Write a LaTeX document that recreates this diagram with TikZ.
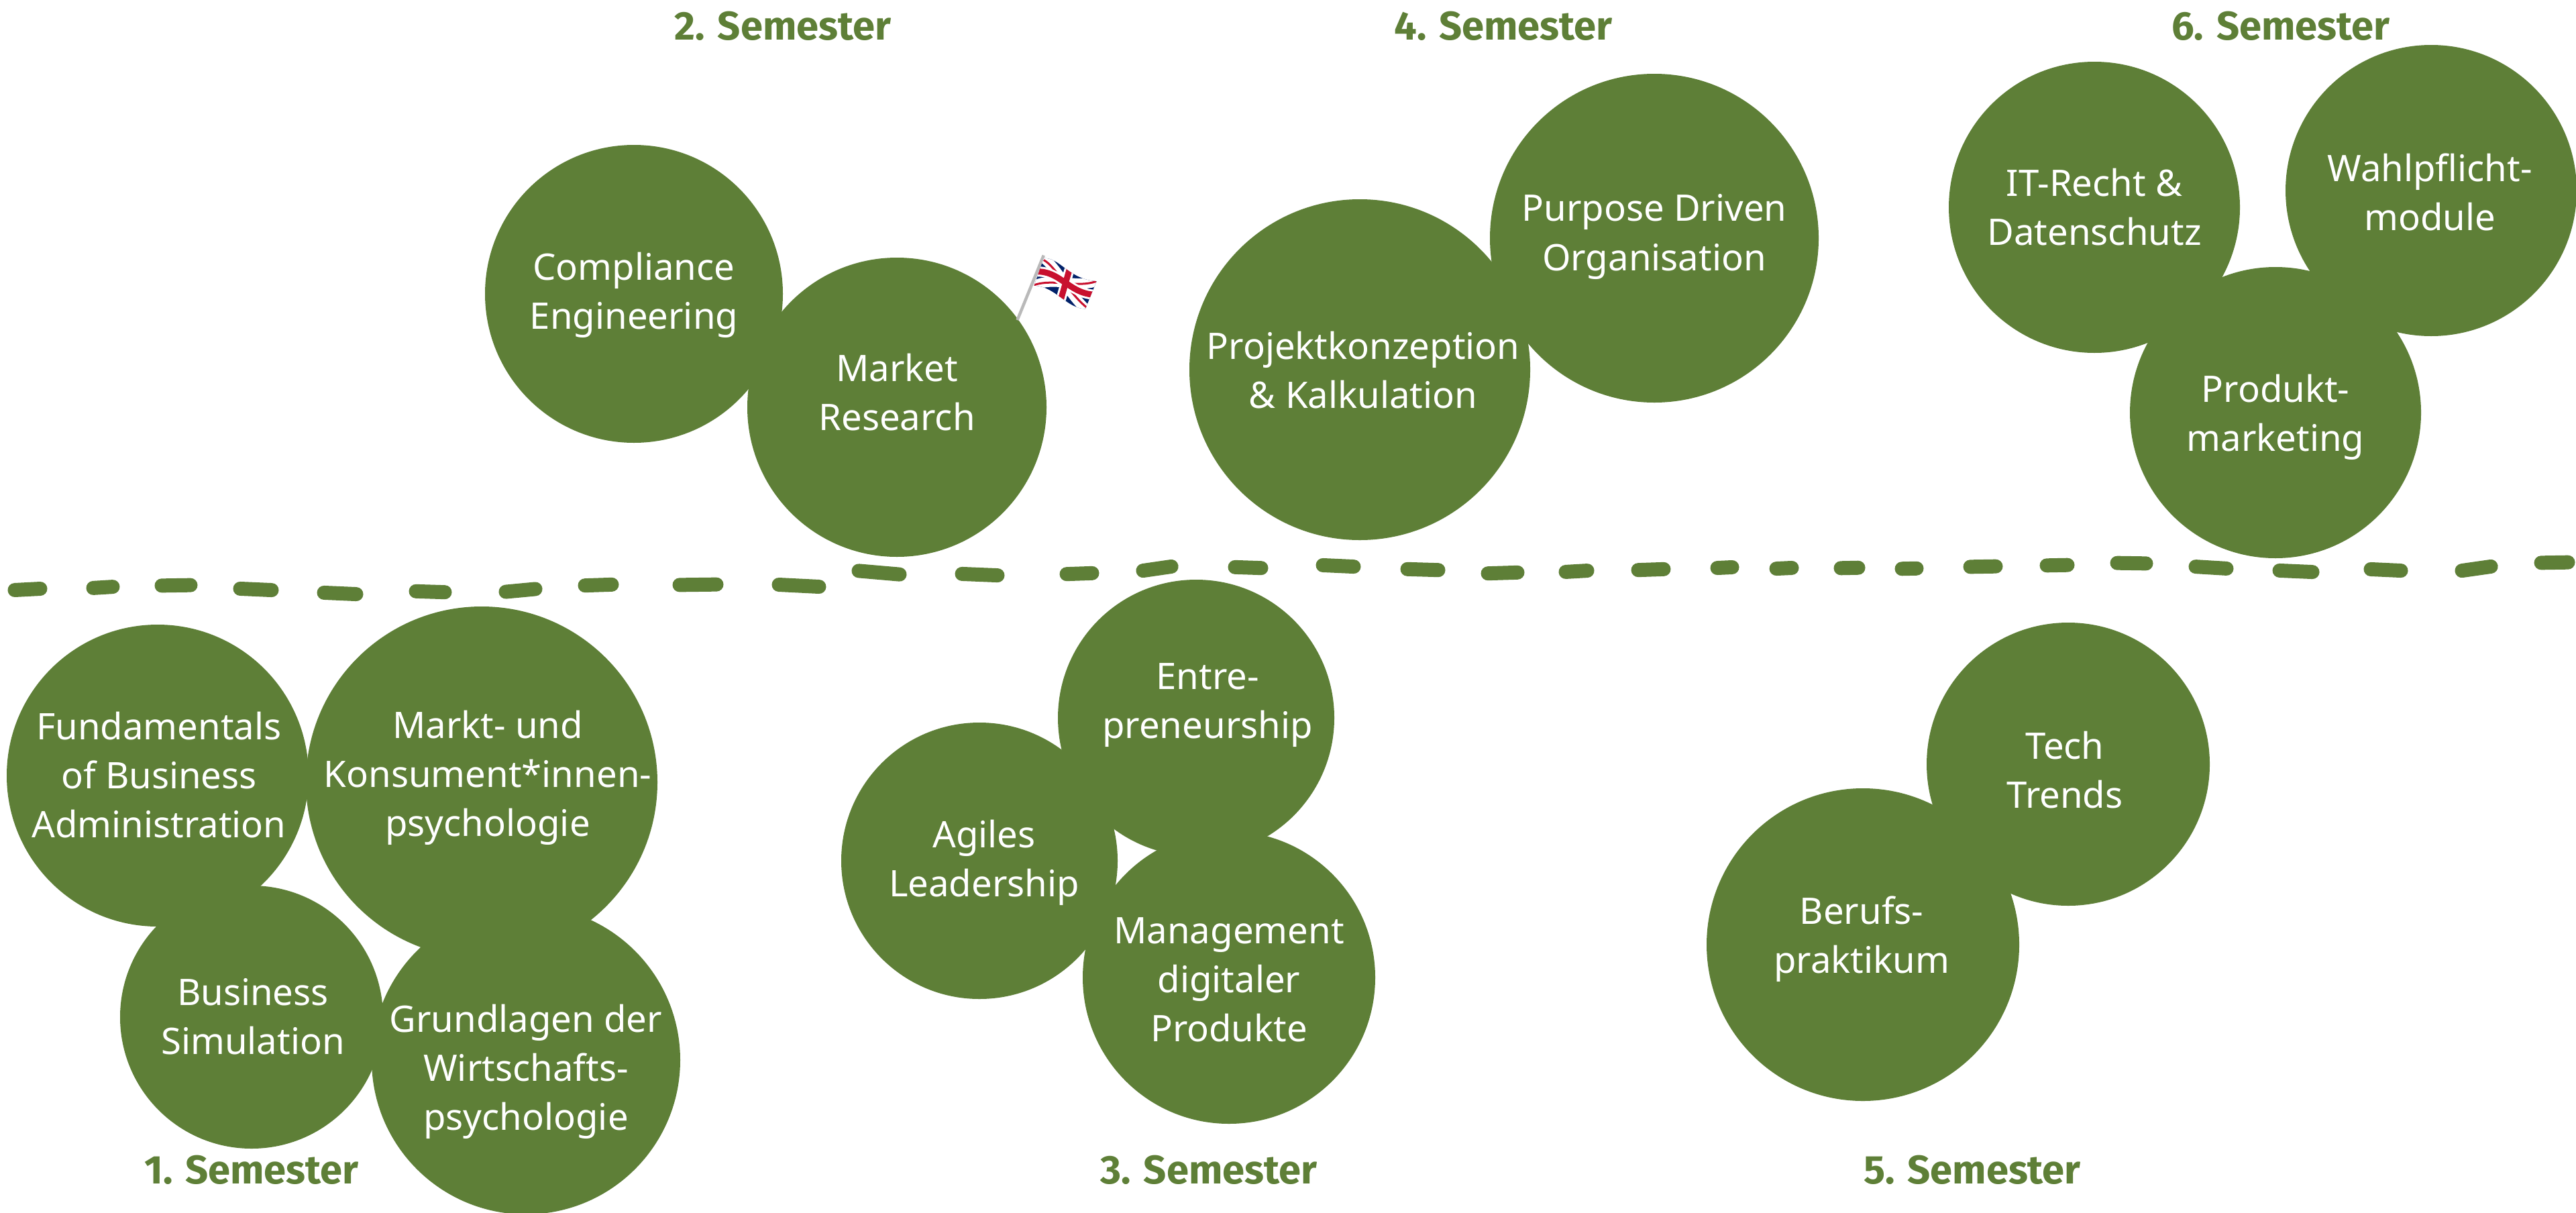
\documentclass[tikz,border=0pt]{standalone}
\usepackage{fontspec}
\setmainfont{Noto Sans}
\newfontfamily\semesterfont{Fira Sans}
\definecolor{modulgreen}{HTML}{5E7F37}
\definecolor{flagblue}{HTML}{012169}
\definecolor{flagred}{HTML}{C8102E}
\tikzset{
    modul/.style={circle, fill=modulgreen, inner sep=0pt},
    modultext/.style={align=center, text=white, font=\fontsize{15.5}{20.8}\selectfont},
    semester/.style={text=modulgreen, font=\semesterfont\fontsize{17}{20}\selectfont\bfseries},
    teiler/.style={modulgreen, line width=0.21cm, line cap=round, shorten <=0.1cm, shorten >=0.1cm},
}

\begin{document}
\begin{tikzpicture}
        \useasboundingbox (0.0, 0.0) rectangle (38.4,-18.07);

        \foreach \xa/\ya/\xb/\yb in {0.12/8.80/0.70/8.77, 1.29/8.77/1.78/8.74, 2.31/8.73/2.94/8.72,
            3.48/8.77/4.15/8.80, 4.73/8.83/5.41/8.86, 6.10/8.81/6.73/8.83, 7.44/8.83/8.08/8.77,
            8.62/8.73/9.22/8.71, 10.03/8.72/10.78/8.71, 11.51/8.71/12.31/8.75, 12.70/8.50/13.51/8.57,
            14.24/8.55/14.97/8.58, 15.80/8.56/16.38/8.54, 16.94/8.52/17.56/8.43, 18.31/8.45/18.90/8.47,
            19.62/8.42/20.28/8.45, 20.88/8.48/21.54/8.50, 22.08/8.55/22.72/8.53, 23.24/8.53/23.76/8.50,
            24.32/8.50/24.90/8.48, 25.50/8.47/25.92/8.45, 26.38/8.48/26.81/8.46, 27.34/8.47/27.80/8.46,
            28.25/8.48/28.67/8.47, 29.27/8.45/29.85/8.44, 30.41/8.43/30.92/8.42, 31.46/8.39/32.09/8.40,
            32.63/8.44/33.29/8.48, 33.88/8.50/34.57/8.53, 35.24/8.48/35.89/8.51, 36.60/8.52/37.23/8.43,
            37.78/8.39/38.38/8.38}
            \draw[teiler] (\xa,-\ya) -- (\xb,-\yb);

        \node[modul, minimum size=4.44cm] (compliance) at ( 9.45,-4.38) {};
        \node[modul, minimum size=4.46cm] (market)     at (13.37,-6.07) {};
        \node[modul, minimum size=5.08cm] (projekt)    at (20.27,-5.51) {};
        \node[modul, minimum size=4.90cm] (purpose)    at (24.66,-3.55) {};
        \node[modul, minimum size=4.34cm] (itrecht)    at (31.22,-3.09) {};
        \node[modul, minimum size=4.34cm] (wahl)       at (36.24,-2.84) {};
        \node[modul, minimum size=4.34cm] (produkt)    at (33.92,-6.15) {};
        \node[modul, minimum size=4.50cm] (fundament)  at ( 2.35,-11.56) {};
        \node[modul, minimum size=5.24cm] (konsument)  at ( 7.18,-11.66) {};
        \node[modul, minimum size=3.92cm] (simulation) at ( 3.75,-15.16) {};
        \node[modul, minimum size=4.60cm] (grundlagen) at ( 7.84,-15.80) {};
        \node[modul, minimum size=4.12cm] (agiles)     at (14.60,-12.83) {};
        \node[modul, minimum size=4.12cm] (entre)      at (17.83,-10.70) {};
        \node[modul, minimum size=4.36cm] (management) at (18.32,-14.57) {};
        \node[modul, minimum size=4.22cm] (tech)       at (30.83,-11.39) {};
        \node[modul, minimum size=4.66cm] (berufs)     at (27.77,-14.08) {};

        \node[modultext] (compliancetext) at ( 9.45,-4.40) {Compliance\\Engineering};
        \node[modultext] (markettext)     at (13.37,-5.85) {Market\\Research};
        \node[modultext] (projekttext)    at (20.32,-5.52) {Projektkonzeption\\\& Kalkulation};
        \node[modultext] (purposetext)    at (24.66,-3.53) {Purpose Driven\\Organisation};
        \node[modultext] (itrechttext)    at (31.22,-3.09) {IT-Recht \&\\Datenschutz};
        \node[modultext] (wahltext)       at (36.22,-2.86) {Wahlpflicht-\\module};
        \node[modultext] (produkttext)    at (33.92,-6.22) {Produkt-\\marketing};
        \node[modultext] (fundamenttext)  at ( 2.37,-11.55) {Fundamentals\\of Business\\Administration};
        \node[modultext] (konsumenttext)  at ( 7.27,-11.59) {Markt- und\\Konsument*innen-\\psychologie};
        \node[modultext] (simulationtext) at ( 3.77,-15.15) {Business\\Simulation};
        \node[modultext] (grundlagentext) at ( 7.84,-15.97) {Grundlagen der\\Wirtschafts-\\psychologie};
        \node[modultext] (agilestext)     at (14.67,-12.86) {Agiles\\Leadership};
        \node[modultext] (entretext)      at (18.00,-10.51) {Entre-\\preneurship};
        \node[modultext] (managementtext) at (18.32,-14.60) {Management\\digitaler\\Produkte};
        \node[modultext] (techtext)       at (30.78,-11.48) {Tech\\Trends};
        \node[modultext] (berufstext)     at (27.75,-14.00) {Berufs-\\praktikum};

        \node[semester] (sem1) at ( 3.75,-17.44) {1. Semester};
        \node[semester] (sem2) at (11.67,-0.39) {2. Semester};
        \node[semester] (sem3) at (18.02,-17.44) {3. Semester};
        \node[semester] (sem4) at (22.41,-0.39) {4. Semester};
        \node[semester] (sem5) at (29.40,-17.44) {5. Semester};
        \node[semester] (sem6) at (34.00,-0.39) {6. Semester};

        \begin{scope}[shift={(14.5,-3.4)}, x=0.00333cm, y=-0.00333cm]
            \draw[gray!55, line width=0.045cm] (200,412) -- (318,122);
            \begin{scope}
                \clip (318,135) .. controls (390,130) and (430,230) .. (555,238)
                    -- (505,362) .. controls (420,360) and (370,260) .. (275,258) -- cycle;
                \fill[flagblue] (250,100) rectangle (580,380);
                \draw[white, line width=0.15cm] (318,135) .. controls (370,170) and (430,290) .. (505,362);
                \draw[white, line width=0.15cm] (555,238) .. controls (470,270) and (360,215) .. (275,258);
                \draw[flagred, line width=0.03cm] (318,143) .. controls (370,170) and (430,290) .. (510,355);
                \draw[flagred, line width=0.03cm] (555,238) .. controls (470,270) and (360,225) .. (275,255);
                \draw[white, line width=0.15cm] (285,195) .. controls (390,190) and (430,290) .. (540,298);
                \draw[white, line width=0.15cm] (435,180) -- (395,320);
                \draw[flagred, line width=0.09cm] (285,195) .. controls (390,190) and (430,290) .. (540,298);
                \draw[flagred, line width=0.09cm] (435,180) -- (395,320);
            \end{scope}
        \end{scope}
    \end{tikzpicture}
\end{document}
